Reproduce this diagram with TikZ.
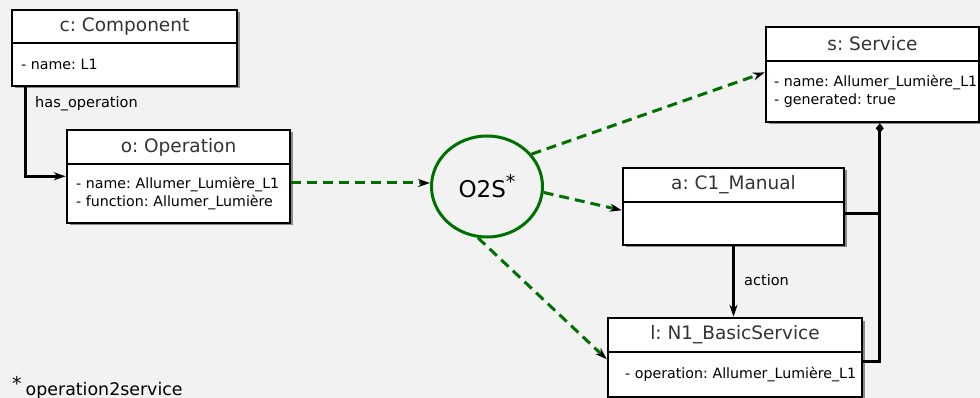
\documentclass[tikz,border=0pt]{standalone}
\usepackage{fontspec}
\setmainfont{DejaVu Sans}
\frenchspacing
\usetikzlibrary{shapes.geometric,arrows.meta,shadows,calc}
\definecolor{bggray}{HTML}{F2F2F2}
\definecolor{titlegray}{HTML}{333333}
\definecolor{flowgreen}{RGB}{0,112,0}
\definecolor{shadowgray}{HTML}{8A8A8A}
\tikzset{
  boxshadow/.style={drop shadow={shadow xshift=2.5pt,shadow yshift=-2.5pt,fill=shadowgray,opacity=1}},
  hdr/.style={draw, line width=2.5pt, fill=white, inner sep=0pt, boxshadow,
    font=\fontsize{18.5}{22}\selectfont, text=titlegray},
  bdy/.style={draw, line width=2.5pt, fill=white, inner ysep=0pt, inner xsep=9pt, boxshadow,
    font=\fontsize{14.2}{18}\selectfont, align=left},
  lbl/.style={inner sep=0pt, font=\fontsize{14.5}{18}\selectfont},
  assoc/.style={line width=2.8pt, -{Stealth[length=12pt,width=8pt]}},
  plainline/.style={line width=2.8pt},
  flow/.style={draw=flowgreen, line width=3pt, dash pattern=on 10pt off 6pt,
    -{Stealth[black,length=12pt,width=8pt]}},
  transf/.style={ellipse, draw=flowgreen, line width=3pt, inner sep=0pt,
    font=\fontsize{23}{26}\selectfont}
}
\begin{document}
\begin{tikzpicture}[x=1pt,y=-1pt]
\useasboundingbox (0,0) rectangle (980,398);
\fill[bggray] (0,0) rectangle (980,398);
\clip (0,0) rectangle (980,398);

% c: Component
\node[hdr, minimum width=225pt, minimum height=33pt] (cH) at (124.5,26.5) {c: Component};
\node[bdy, minimum width=225pt, minimum height=43pt, text width=207pt] (cB) at (124.5,64.5) {\mbox{- name: L1}};

% o: Operation
\node[hdr, minimum width=223pt, minimum height=34pt] (oH) at (178.5,147) {o: Operation};
\node[bdy, minimum width=223pt, minimum height=59pt, text width=205pt] (oB) at (178.5,193.5)
  {\mbox{- name: Allumer\_Lumière\_L1}\\\mbox{- function: Allumer\_Lumière}};

% s: Service
\node[hdr, minimum width=213pt, minimum height=34pt] (sH) at (872.5,44) {s: Service};
\node[bdy, inner xsep=8pt, minimum width=213pt, minimum height=61pt, text width=197pt] (sB) at (872.5,91.5)
  {\mbox{- name: Allumer\_Lumière\_L1}\\\mbox{- generated: true}};

% a: C1_Manual
\node[hdr, minimum width=221pt, minimum height=34pt] (aH) at (733.5,185) {a: C1\_Manual};
\node[bdy, minimum width=221pt, minimum height=43pt, text width=203pt] (aB) at (733.5,223.5) {};

% l: N1_BasicService
\node[hdr, minimum width=254pt, minimum height=34pt] (lH) at (735,335) {l: N1\_BasicService};
\node[bdy, inner xsep=17pt, minimum width=254pt, minimum height=45pt, text width=220pt] (lB) at (735,374.5)
  {\mbox{- operation: Allumer\_Lumière\_L1}};

% transformation
\node[transf, minimum width=111pt, minimum height=101pt] (o2s) at (487,186.5)
  {O2S\raisebox{9pt}{\fontsize{19}{19}\selectfont *}};

% has_operation
\coordinate (cOut) at ($(cB.south west)+(15,0)$);
\coordinate (oIn) at ($(oB.north west)!0.22!(oB.south west)$);
\draw[assoc] (cOut) |- (oIn);
\node[lbl, anchor=west] (hasop) at (35,104) {has\_operation};

% action
\draw[assoc] (aB.south) -- (aB.south |- lH.north);
\node[lbl, anchor=west] (actlbl) at (744,280) {action};

% composition
\coordinate (sComp) at ($(sB.south west)+(115,0)$);
\coordinate (aOut) at ($(aB.north east)!0.28!(aB.south east)$);
\coordinate (lOut) at ($(lB.north east)!0.22!(lB.south east)$);
\draw[plainline, {Diamond[length=10pt,width=8pt]}-] (sComp) |- (lOut);
\draw[plainline] (aOut) -- (aOut -| sComp);

% transformation flows
\coordinate (oFlow) at (oB.east |- 0,183);
\coordinate (sIn) at ($(sB.north west)!0.2!(sB.south west)$);
\coordinate (aIn) at ($(aB.north west)!0.21!(aB.south west)$);
\coordinate (lIn) at ($(lB.north west)!0.18!(lB.south west)$);
\draw[flow] (oFlow) -- (o2s.west |- oFlow);
\draw[flow] (o2s.36) -- (sIn);
\draw[flow] (o2s.-6) -- (aIn);
\draw[flow] (o2s.-100) -- (lIn);

% footnote
\node[inner sep=0pt, anchor=base west, font=\fontsize{17.4}{20}\selectfont] (note) at (12,395)
  {\raisebox{4.5pt}{\fontsize{19}{19}\selectfont *}\kern4pt operation2service};
\end{tikzpicture}
\end{document}
